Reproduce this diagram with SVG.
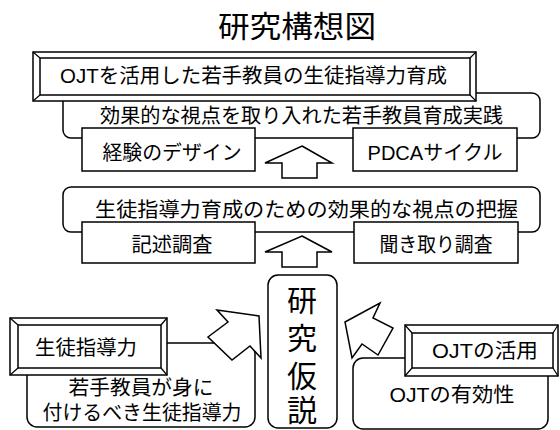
<svg xmlns="http://www.w3.org/2000/svg" width="560" height="430" viewBox="0 0 560 430">
<style>
.b{fill:#fff;stroke:#000;stroke-width:1.5}
.l{stroke:#000;stroke-width:1.2;fill:none}
.t{font-family:"Liberation Sans","Noto Sans CJK JP",sans-serif;font-size:20px;fill:#000}
.m{text-anchor:middle}
</style>
<rect width="560" height="430" fill="#fff"/>
<text class="t m" x="297" y="37" style="font-size:30px" textLength="158" lengthAdjust="spacingAndGlyphs">研究構想図</text>

<g id="practice">
<rect class="b" x="63" y="93" width="477" height="45" rx="8"/>
<text class="t" x="100" y="123" textLength="403" lengthAdjust="spacingAndGlyphs">効果的な視点を取り入れた若手教員育成実践</text>
</g>
<g id="goal">
<rect class="b" x="33" y="52" width="443" height="49"/>
<rect class="b" x="40" y="58" width="430" height="37"/>
<path class="l" d="M33 52L40 58M476 52L470 58M33 101L40 95M476 101L470 95"/>
<text class="t" x="60" y="83" textLength="387" lengthAdjust="spacingAndGlyphs">OJTを活用した若手教員の生徒指導力育成</text>
</g>
<g id="design">
<rect class="b" x="82" y="128" width="173" height="43"/>
<text class="t m" x="172" y="160" textLength="139" lengthAdjust="spacingAndGlyphs">経験のデザイン</text>
</g>
<g id="pdca">
<rect class="b" x="353" y="128" width="164" height="43"/>
<text class="t m" x="435" y="160" textLength="135" lengthAdjust="spacingAndGlyphs">PDCAサイクル</text>
</g>

<g id="grasp">
<rect class="b" x="63" y="187" width="477" height="45" rx="8"/>
<text class="t" x="95" y="217" textLength="423" lengthAdjust="spacingAndGlyphs">生徒指導力育成のための効果的な視点の把握</text>
</g>
<g id="survey">
<rect class="b" x="82" y="222" width="173" height="41"/>
<text class="t m" x="172" y="252" textLength="81" lengthAdjust="spacingAndGlyphs">記述調査</text>
</g>
<g id="interview">
<rect class="b" x="354" y="222" width="164" height="41"/>
<text class="t m" x="436" y="252" textLength="113" lengthAdjust="spacingAndGlyphs">聞き取り調査</text>
</g>

<g id="hypothesis">
<rect class="b" x="268" y="275" width="69" height="153" rx="10"/>
<text class="t m" x="302" y="311" style="font-size:30px">研</text>
<text class="t m" x="302" y="349" style="font-size:30px">究</text>
<text class="t m" x="302" y="387" style="font-size:30px">仮</text>
<text class="t m" x="302" y="421" style="font-size:30px">説</text>
</g>

<g id="guidance">
<rect class="b" x="27" y="343" width="228" height="84" rx="10"/>
<rect class="b" x="10" y="318" width="157" height="57"/>
<rect class="b" x="18" y="325" width="143" height="43"/>
<path class="l" d="M10 318L18 325M167 318L161 325M10 375L18 368M167 375L161 368"/>
<text class="t m" x="86" y="355" textLength="102" lengthAdjust="spacingAndGlyphs">生徒指導力</text>
<text class="t m" x="141" y="395" textLength="145" lengthAdjust="spacingAndGlyphs">若手教員が身に</text>
<text class="t m" x="142" y="420" textLength="199" lengthAdjust="spacingAndGlyphs">付けるべき生徒指導力</text>
</g>

<g id="ojt">
<rect class="b" x="353" y="358" width="195" height="71" rx="10"/>
<rect class="b" x="405" y="325" width="153" height="51"/>
<rect class="b" x="412" y="333" width="141" height="35"/>
<path class="l" d="M405 325L412 333M558 325L553 333M405 376L412 368M558 376L553 368"/>
<text class="t m" x="485" y="358" textLength="106" lengthAdjust="spacingAndGlyphs">OJTの活用</text>
<text class="t m" x="452" y="402" textLength="125" lengthAdjust="spacingAndGlyphs">OJTの有効性</text>
</g>

<g id="connectors">
<polygon class="b" points="302,146 332,163 317,163 317,178 282,178 282,163 265,163"/>
<polygon class="b" points="302,236 332,252 317,252 317,267 282,267 282,252 265,252"/>
<polygon class="b" points="217,310 259,316 261,358 250,346 232,360 208,337 228,322"/>
<polygon class="b" points="345,322 380,303 373,318 393,328 378,355 362,344 352,358"/>
</g>
</svg>
